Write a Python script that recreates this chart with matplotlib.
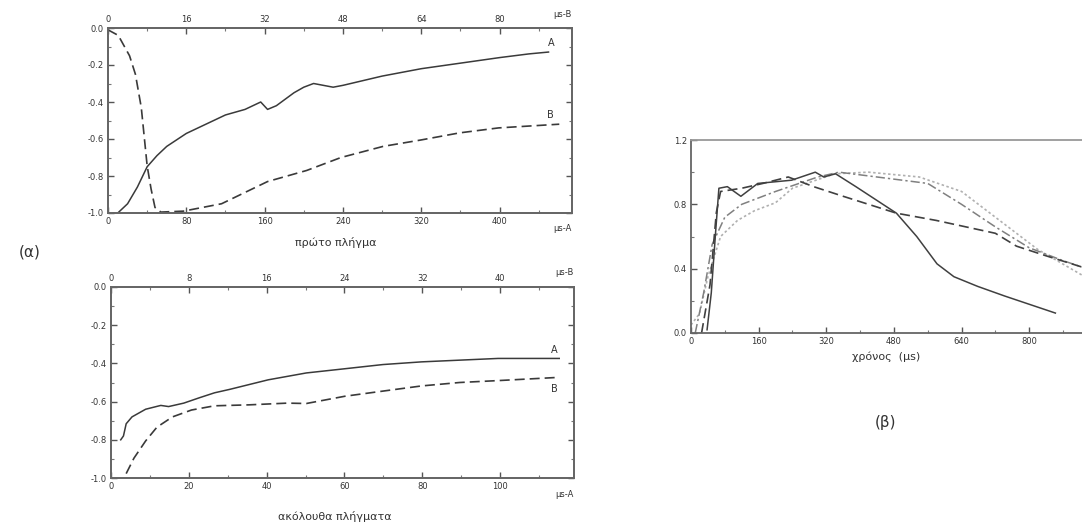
import matplotlib.pyplot as plt
from matplotlib.ticker import MultipleLocator

# top-left panel: first strike (A vs bottom axis, B vs top axis)
a1_x = [5, 10, 20, 30, 40, 50, 60, 80, 100, 120, 140, 156, 163, 172, 190, 200, 210, 220, 230, 240,
        280, 320, 360, 400, 430, 450]
a1_y = [-1.0, -1.0, -0.95, -0.86, -0.75, -0.69, -0.64, -0.57, -0.52, -0.47, -0.44, -0.40, -0.44, -0.42,
        -0.35, -0.32, -0.30, -0.31, -0.32, -0.31, -0.26, -0.22, -0.19, -0.16, -0.14, -0.13]
b1_x = [0, 2.1, 4.4, 5.6, 6.8, 7.6, 8.0, 8.8, 9.6, 10.8, 15.4, 23.2, 32.6, 40.6, 47.6, 56.2, 64.0,
        71.8, 79.8, 92.2]
b1_y = [-0.01, -0.04, -0.15, -0.25, -0.43, -0.64, -0.745, -0.87, -0.97, -0.995, -0.99, -0.95, -0.83,
        -0.77, -0.70, -0.64, -0.605, -0.567, -0.54, -0.52]
top_a_ticks = [0, 80, 160, 240, 320, 400]
top_b_ticks = [0, 16, 32, 48, 64, 80]

# bottom-left panel: following strikes
a2_x = [2.5, 3.2, 3.9, 5.4, 8.9, 12.8, 14.8, 18.7, 22.7, 26.6, 30.5, 40.4, 50.2, 60.1, 69.9, 79.8,
        89.6, 99.5, 115.2]
a2_y = [-0.80, -0.78, -0.716, -0.68, -0.64, -0.62, -0.626, -0.608, -0.58, -0.554, -0.536, -0.486,
        -0.45, -0.428, -0.406, -0.392, -0.383, -0.374, -0.374]
b2_x = [1.56, 2.36, 3.56, 4.72, 6.32, 8.28, 10.64, 14.2, 18.12, 20.08, 24.04, 27.96, 31.92, 35.84,
        39.8, 46.08]
b2_y = [-0.977, -0.896, -0.806, -0.734, -0.68, -0.644, -0.622, -0.617, -0.608, -0.61, -0.572, -0.545,
        -0.518, -0.50, -0.49, -0.473]
bot_a_ticks = [0, 20, 40, 60, 80, 100]
bot_b_ticks = [0, 8, 16, 24, 32, 40]

# right panel: four traces vs time
solid_x = [38, 48, 58, 66, 86, 118, 158, 238, 294, 314, 342, 390, 486, 534, 582, 622, 678, 742, 862]
solid_y = [0.02, 0.25, 0.62, 0.90, 0.91, 0.85, 0.93, 0.95, 1.0, 0.97, 0.99, 0.91, 0.745, 0.60, 0.43,
           0.35, 0.29, 0.23, 0.124]
dash_x = [25, 45, 60, 70, 120, 170, 230, 290, 360, 486, 580, 720, 770, 840, 925]
dash_y = [0.0, 0.3, 0.75, 0.88, 0.90, 0.93, 0.97, 0.91, 0.85, 0.745, 0.70, 0.62, 0.54, 0.48, 0.41]
dashdot_x = [10, 30, 50, 80, 120, 200, 300, 350, 440, 560, 640, 720, 800, 880, 925]
dashdot_y = [0.0, 0.25, 0.55, 0.72, 0.80, 0.88, 0.97, 1.0, 0.97, 0.93, 0.80, 0.66, 0.53, 0.45, 0.41]
dot_x = [0, 20, 40, 70, 110, 150, 200, 240, 340, 420, 540, 640, 720, 820, 925]
dot_y = [0.05, 0.12, 0.35, 0.60, 0.70, 0.76, 0.81, 0.90, 0.99, 1.0, 0.97, 0.88, 0.72, 0.52, 0.36]

y_ticks_left = [0.0, -0.2, -0.4, -0.6, -0.8, -1.0]
right_xticks = [0, 160, 320, 480, 640, 800]
right_yticks = [0.0, 0.4, 0.8, 1.2]

plt.rcParams['font.family'] = ['DejaVu Sans']
INK = '#3a3a3a'
TS = 6


def style(ax):
    for s in ax.spines.values():
        s.set_color('#666666')
        s.set_linewidth(1.3)
    ax.tick_params(direction='in', length=4, width=1, colors='#555555', labelsize=TS,
                   labelcolor='#333333', pad=3)
    ax.tick_params(which='minor', direction='in', length=2.5, width=0.8, colors='#777777')


fig = plt.figure(figsize=(10.82, 5.24), dpi=100)


def left_panel(rect, ax_x, ax_y, bx, by, xmax, bmax, aticks, bticks, la, lb):
    ax = fig.add_axes(rect)
    ax.plot(ax_x, ax_y, color=INK, lw=1.1)
    ax.set_yticks(y_ticks_left)
    ax.set_yticklabels([f'{v:.1f}' for v in y_ticks_left])
    ax.set_xticks(aticks)
    ax.xaxis.set_minor_locator(MultipleLocator(aticks[1] / 2))
    ax.yaxis.set_minor_locator(MultipleLocator(0.1))
    ax.set_xlim(0, xmax)
    ax.set_ylim(-1.0, 0.0)
    style(ax)
    ax.tick_params(right=True, which='both')
    ax.text(1.0, -0.085, 'μs-A', transform=ax.transAxes, ha='right', va='center', fontsize=TS,
            color='#333333')
    ax.text(la[0], la[1], 'A', fontsize=7, color='#333333', ha='center', va='center')

    ax2 = ax.twiny()
    ax2.plot(bx, by, color=INK, lw=1.2, ls=(0, (6, 3)))
    ax2.set_xticks(bticks)
    ax2.xaxis.set_minor_locator(MultipleLocator(bticks[1] / 2))
    ax2.set_xlim(0, bmax)
    style(ax2)
    ax2.text(1.0, 1.075, 'μs-B', transform=ax.transAxes, ha='right', va='center', fontsize=TS,
             color='#333333')
    ax2.text(lb[0], lb[1], 'B', fontsize=7, color='#333333', ha='center', va='center')
    return ax


left_panel([108 / 1082, 1 - 213 / 524, 464 / 1082, 185 / 524], a1_x, a1_y, b1_x, b1_y,
           474, 94.8, top_a_ticks, top_b_ticks, (453, -0.08), (90.4, -0.47))
left_panel([111 / 1082, 1 - 478 / 524, 463 / 1082, 191 / 524], a2_x, a2_y, b2_x, b2_y,
           119, 47.6, bot_a_ticks, bot_b_ticks, (113.8, -0.33), (45.6, -0.535))

fig.text(336 / 1082, 1 - 242 / 524, 'πρώτο πλήγμα', ha='center', va='center', fontsize=8,
         color='#333333')
fig.text(335 / 1082, 1 - 517 / 524, 'ακόλουθα πλήγματα', ha='center', va='center', fontsize=8,
         color='#333333')
fig.text(30 / 1082, 1 - 252 / 524, '(α)', ha='center', va='center', fontsize=11, color='#333333')

# right panel
ax3 = fig.add_axes([691 / 1082, 1 - 333 / 524, 391 / 1082, 193 / 524])
ax3.plot(dot_x, dot_y, color='#b0b0b0', lw=1.2, ls=(0, (1.5, 1.5)))
ax3.plot(dashdot_x, dashdot_y, color='#808080', lw=1.1, ls=(0, (6, 2, 1.5, 2)))
ax3.plot(dash_x, dash_y, color='#404040', lw=1.2, ls=(0, (6, 3)))
ax3.plot(solid_x, solid_y, color='#404040', lw=1.1)
ax3.set_xticks(right_xticks)
ax3.set_yticks(right_yticks)
ax3.set_yticklabels([f'{v:.1f}' for v in right_yticks])
ax3.xaxis.set_minor_locator(MultipleLocator(80))
ax3.yaxis.set_minor_locator(MultipleLocator(0.2))
ax3.set_xlim(0, 925)
ax3.set_ylim(0, 1.2)
style(ax3)
ax3.spines['right'].set_visible(False)
ax3.spines['top'].set_color('#999999')
ax3.set_xlabel('χρόνος  (μs)', fontsize=8, color='#333333', labelpad=4)

fig.text(885 / 1082, 1 - 422 / 524, '(β)', ha='center', va='center', fontsize=11, color='#333333')

fig.savefig('out.png', dpi=100)
